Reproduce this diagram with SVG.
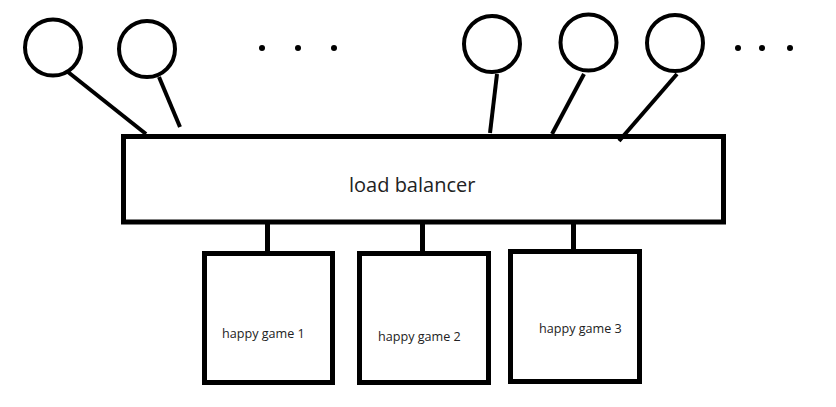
<svg xmlns="http://www.w3.org/2000/svg" width="836" height="407" viewBox="0 0 836 407">
<style>
.c{fill:none;stroke:#000;stroke-width:4}
.b{fill:#fff;stroke:#000;stroke-width:5}
.l{stroke:#000;stroke-width:4;fill:none}
.v{stroke:#000;stroke-width:5;fill:none}
.d{fill:#000}
.t{font-family:"Open Sans","Noto Sans",sans-serif;fill:#222}
</style>
<rect width="836" height="407" fill="#fff"/>
<g id="client1"><circle class="c" cx="53" cy="47.5" r="28"/></g>
<g id="client2"><circle class="c" cx="147" cy="49" r="28"/></g>
<g id="dots1"><circle class="d" cx="262" cy="48" r="3"/><circle class="d" cx="298" cy="48" r="3"/><circle class="d" cx="334" cy="48" r="3"/></g>
<g id="client3"><circle class="c" cx="492" cy="44" r="28"/></g>
<g id="client4"><circle class="c" cx="588.5" cy="42.5" r="28"/></g>
<g id="client5"><circle class="c" cx="675" cy="43" r="28"/></g>
<g id="dots2"><circle class="d" cx="738" cy="48" r="3"/><circle class="d" cx="762" cy="48" r="3"/><circle class="d" cx="790" cy="48" r="3"/></g>
<g id="lb">
<rect class="b" x="123.5" y="136.5" width="600" height="85.5"/>
<text class="t" x="349" y="192" font-size="20">load balancer</text>
</g>
<g id="game1">
<rect class="b" x="204.5" y="253.5" width="128" height="129"/>
<text class="t" x="222" y="338" font-size="12.6">happy game 1</text>
</g>
<g id="game2">
<rect class="b" x="359.5" y="253.5" width="129" height="129"/>
<text class="t" x="378" y="341" font-size="12.6">happy game 2</text>
</g>
<g id="game3">
<rect class="b" x="510.5" y="251.5" width="129" height="130"/>
<text class="t" x="539" y="333" font-size="12.6">happy game 3</text>
</g>
<g id="connectors">
<line class="l" x1="68" y1="72" x2="146" y2="134"/>
<line class="l" x1="159" y1="77" x2="180" y2="127"/>
<line class="l" x1="497" y1="74" x2="490" y2="133"/>
<line class="l" x1="584" y1="74" x2="552" y2="134"/>
<line class="l" x1="677" y1="74" x2="619" y2="141"/>
<line class="v" x1="267.5" y1="222" x2="267.5" y2="253"/>
<line class="v" x1="422.5" y1="222" x2="422.5" y2="253"/>
<line class="v" x1="573.5" y1="222" x2="573.5" y2="251"/>
</g>
</svg>
